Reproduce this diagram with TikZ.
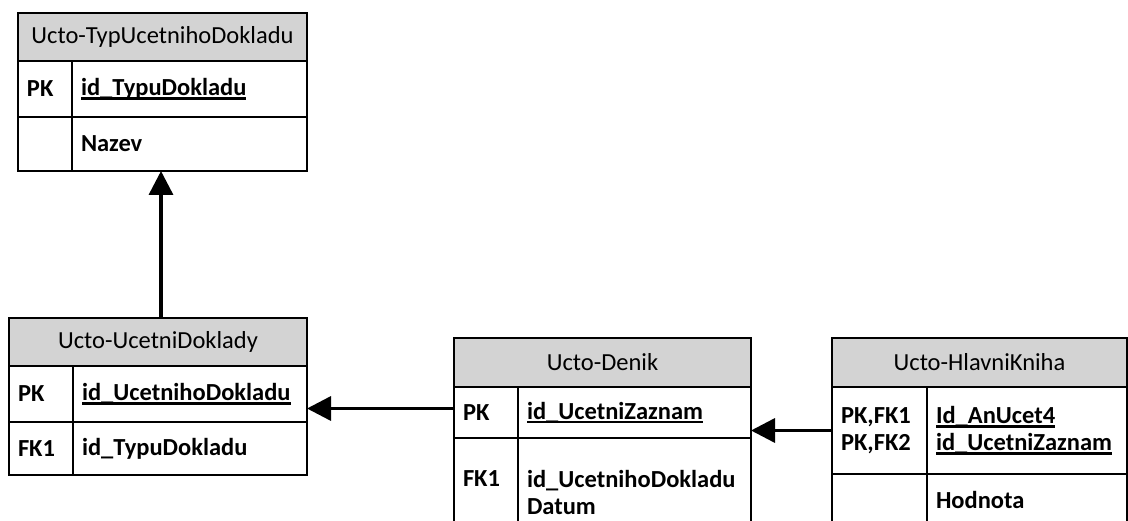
\documentclass[tikz,border=0pt]{standalone}
\usepackage{fontspec}
\setmainfont{Carlito}
\usetikzlibrary{arrows.meta}
\definecolor{header gray}{RGB}{211,211,211}
\newsavebox{\pkbox}
\newcommand{\pkname}[1]{\sbox{\pkbox}{#1}\mbox{\rlap{\rule[-4pt]{\wd\pkbox}{2.4pt}}\usebox{\pkbox}}}
\tikzset{
    x={1pt},
    y={-1pt},
    table cell/.style={
        draw=black,
        line width={2pt},
        anchor=north west,
        inner xsep=9pt,
        inner ysep=0pt,
        outer sep=0pt,
        align=left,
        font={\fontsize{24.5}{27}\selectfont\bfseries},
    },
    table header/.style={
        table cell,
        fill=header gray,
        inner xsep=0pt,
        align=center,
        font={\fontsize{24.5}{27}\selectfont},
    },
    fk arrow/.style={
        draw=black,
        line width={3.5pt},
        -{Triangle[length=24pt,width=24pt]},
    },
}

\begin{document}
\begin{tikzpicture}
\useasboundingbox (0,0) rectangle (1128,521);
\clip (0,0) rectangle (1128,521);
% Ucto-TypUcetnihoDokladu
\node[table header, text width=289pt, minimum height=48pt] (t1head) at (18,13) {Ucto-TypUcetnihoDokladu};
\node[table cell, text width=36pt, minimum height=56pt] (t1pkkey) at (18,61) {PK};
\node[table cell, text width=217pt, minimum height=56pt] (t1pk) at (72,61) {\pkname{id\_TypuDokladu}};
\node[table cell, text width=36pt, minimum height=54pt] (t1namekey) at (18,117) {};
\node[table cell, text width=217pt, minimum height=54pt] (t1name) at (72,117) {Nazev};
% Ucto-UcetniDoklady
\node[table header, text width=298pt, minimum height=48pt] (t2head) at (9,318) {Ucto-UcetniDoklady};
\node[table cell, text width=46pt, minimum height=56pt] (t2pkkey) at (9,366) {PK};
\node[table cell, text width=216pt, minimum height=56pt] (t2pk) at (73,366) {\pkname{id\_UcetnihoDokladu}};
\node[table cell, text width=46pt, minimum height=53pt] (t2fkkey) at (9,422) {FK1};
\node[table cell, text width=216pt, minimum height=53pt] (t2fk) at (73,422) {id\_TypuDokladu};
% Ucto-Denik
\node[table header, text width=297pt, minimum height=49pt] (t3head) at (454,338) {Ucto-Denik};
\node[table cell, text width=46pt, minimum height=51pt] (t3pkkey) at (454,387) {PK};
\node[table cell, text width=215pt, minimum height=51pt] (t3pk) at (518,387) {\pkname{id\_UcetniZaznam}};
\node[table cell, text width=46pt, minimum height=108pt] (t3fkkey) at (454,438) {FK1\\\phantom{D}};
\node[table cell, text width=215pt, minimum height=108pt] (t3fk) at (518,438) {id\_UcetnihoDokladu\\Datum};
% Ucto-HlavniKniha
\node[table header, text width=295pt, minimum height=49pt] (t4head) at (832,338) {Ucto-HlavniKniha};
\node[table cell, text width=77pt, minimum height=87pt] (t4key) at (832,387) {PK,FK1\\PK,FK2};
\node[table cell, text width=182pt, minimum height=87pt] (t4id) at (927,387) {\pkname{Id\_AnUcet4}\\\pkname{id\_UcetniZaznam}};
\node[table cell, text width=77pt, minimum height=52pt] (t4valkey) at (832,474) {};
\node[table cell, text width=182pt, minimum height=52pt] (t4val) at (927,474) {Hodnota};
% relations
\draw[fk arrow] ([xshift=3pt]t2head.north) -- ([xshift=3pt]t2head.north |- t1name.south);
\draw[fk arrow] ([yshift=4pt]t3pkkey.west) -- ([yshift=4pt]t3pkkey.west -| t2pk.east);
\draw[fk arrow] (t4key.west) -- (t4key.west -| t3pk.east);
\end{tikzpicture}
\end{document}
